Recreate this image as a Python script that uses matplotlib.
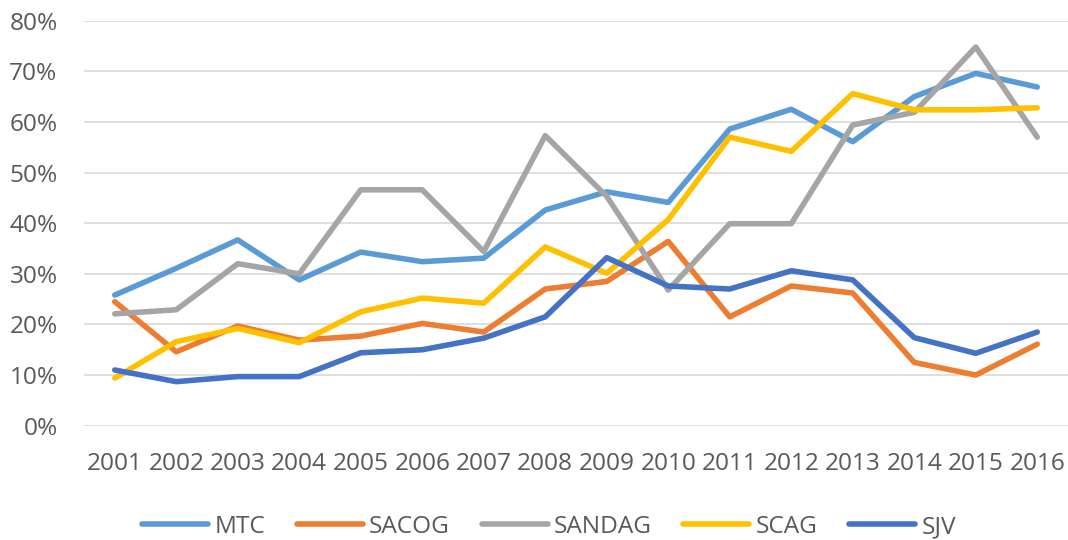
import matplotlib
matplotlib.use("Agg")
import matplotlib.pyplot as plt
from matplotlib.ticker import PercentFormatter

years = [str(y) for y in range(2001, 2017)]
mtc = [25.8, 31.1, 36.7, 28.8, 34.3, 32.4, 33.1, 42.6, 46.2, 44.1, 58.6, 62.5, 56.1, 65.0, 69.6, 66.9]
sacog = [24.5, 14.6, 19.7, 16.9, 17.7, 20.2, 18.5, 27.0, 28.5, 36.4, 21.5, 27.6, 26.2, 12.5, 10.0, 16.1]
sandag = [22.1, 22.9, 32.0, 30.0, 46.6, 46.6, 34.4, 57.3, 45.3, 26.8, 39.9, 39.9, 59.4, 61.9, 74.8, 57.0]
scag = [9.4, 16.6, 19.2, 16.4, 22.5, 25.2, 24.2, 35.3, 30.1, 40.7, 57.0, 54.2, 65.6, 62.4, 62.4, 62.8]
sjv = [11.0, 8.7, 9.7, 9.7, 14.4, 15.0, 17.3, 21.5, 33.2, 27.6, 27.0, 30.6, 28.8, 17.4, 14.3, 18.5]

series = [("MTC", mtc, "#5B9BD5"), ("SACOG", sacog, "#ED7D31"), ("SANDAG", sandag, "#A5A5A5"),
          ("SCAG", scag, "#FFC000"), ("SJV", sjv, "#4472C4")]

plt.rcParams['font.family'] = ['Open Sans', 'DejaVu Sans']
fig = plt.figure(figsize=(10.68, 5.4), dpi=100)
ax = fig.add_axes([84/1068, 1-425.7/540, 1-84/1068, (425.7-20.7)/540])

x = list(range(len(years)))
for name, vals, col in series:
    ax.plot(x, vals, color=col, lw=4.0, label=name, solid_capstyle='round', solid_joinstyle='round')

ax.set_xlim(-0.5, len(years)-0.5)
ax.set_ylim(0, 80)
ax.set_yticks(range(0, 81, 10))
ax.yaxis.set_major_formatter(PercentFormatter(decimals=0))
ax.set_xticks(x)
ax.set_xticklabels(years)
ax.grid(axis='y', color='#D9D9D9', lw=1.2)
ax.set_axisbelow(True)
for s in ax.spines.values():
    s.set_visible(False)
ax.tick_params(axis='both', length=0, labelsize=17.6, colors='#595959')
ax.tick_params(axis='x', pad=19)
ax.tick_params(axis='y', pad=19)

leg = fig.legend(loc='center', bbox_to_anchor=(549/1068, 1-527/540), ncol=5, frameon=False,
                 fontsize=17.6, handlelength=2.7, handletextpad=0.25, columnspacing=1.3)
for t in leg.get_texts():
    t.set_color('#595959')
for h in leg.get_lines():
    h.set_linewidth(4.0)

fig.savefig("out.png", dpi=100)
